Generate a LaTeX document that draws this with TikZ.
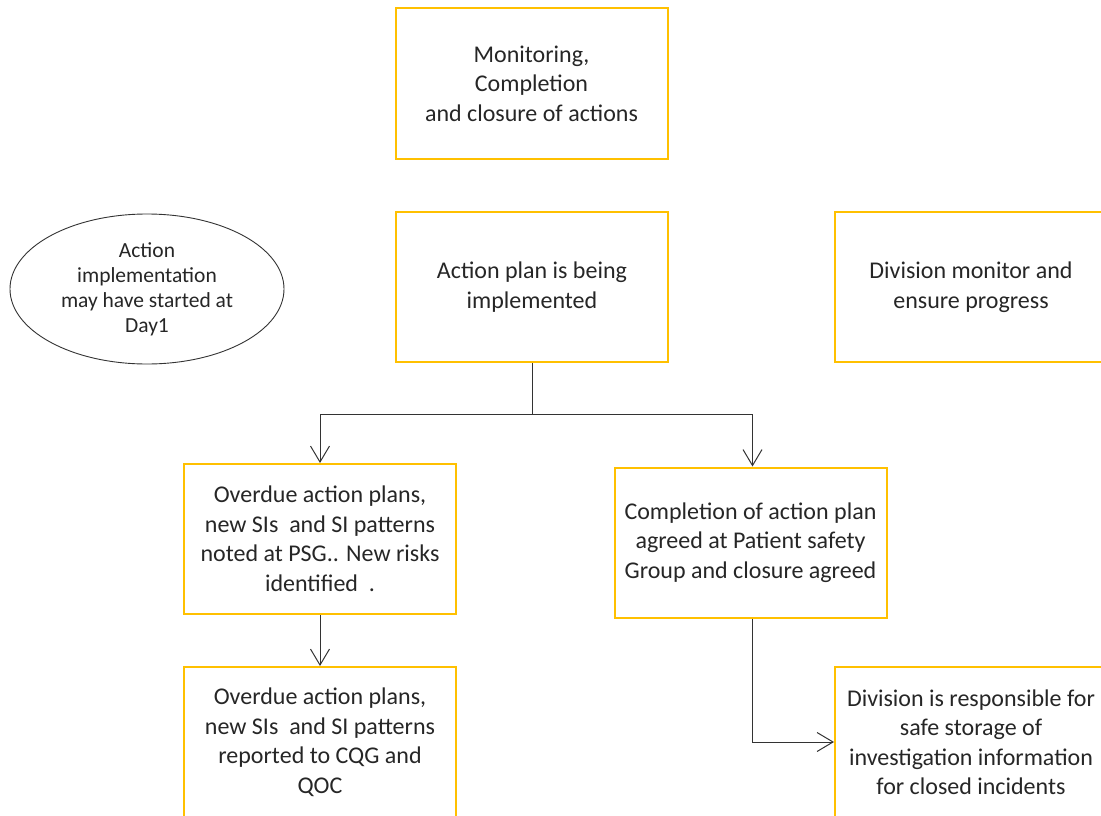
\documentclass[tikz,border=0pt]{standalone}
\usepackage{fontspec}
\setmainfont{Carlito}
\usetikzlibrary{arrows.meta}
\definecolor{boxgold}{HTML}{FFC000}
\definecolor{inkgray}{HTML}{262626}
\definecolor{wiregray}{HTML}{333333}
\begin{document}
\begin{tikzpicture}[x=1pt,y=-1pt,
  stepbox/.style={draw=boxgold,line width=2pt,minimum width=272pt,minimum height=150pt,
    align=center,inner sep=0pt,text=inkgray,font=\fontsize{24}{29.5}\selectfont},
  link/.style={draw=wiregray,line width=1pt,-{Straight Barb[length=16pt,width=19pt,line width=1pt]}},
  trunk/.style={draw=wiregray,line width=1pt}]
\useasboundingbox (0,0) rectangle (1101,816);
\clip (0,0) rectangle (1101,816);

% flow boxes
\node[stepbox] (monitor) at (531.5,83.5) {Monitoring,\\Completion\\and closure of actions};
\node[stepbox] (plan) at (532,287) {Action plan is being\\implemented};
\node[stepbox] (division) at (971,287) {Division monitor and\\ensure progress};
\node[stepbox] (overdue) at (320,539) {Overdue action plans,\\new SIs~ and SI patterns\\noted at PSG.. New risks\\identified~ .};
\node[stepbox] (report) at (320,742) {Overdue action plans,\\new SIs~ and SI patterns\\reported to CQG and\\QOC};
\node[stepbox] (done) at (750.5,542.5) {Completion of action plan\\agreed at Patient safety\\Group and closure agreed};
\node[stepbox] (store) at (971,742) {Division is responsible for\\safe storage of\\investigation information\\for closed incidents};

% side note
\node[align=center,inner sep=0pt,text=inkgray,font=\fontsize{21.5}{25}\selectfont] (start) at (147,289)
  {Action\\implementation\\may have started at\\Day1};
\draw[wiregray,line width=0.9pt] (start.center) ellipse [x radius=137, y radius=75];

% connectors
\coordinate (split) at (532,414.5);
\draw[trunk] (plan.south) -- (split);
\draw[link] (split) -| (overdue.north);
\draw[link] (split) -| ([xshift=2pt]done.north);
\draw[link] (overdue.south) -- (report.north);
\draw[link] ([xshift=1.5pt]done.south) |- (store.west);
\end{tikzpicture}
\end{document}
